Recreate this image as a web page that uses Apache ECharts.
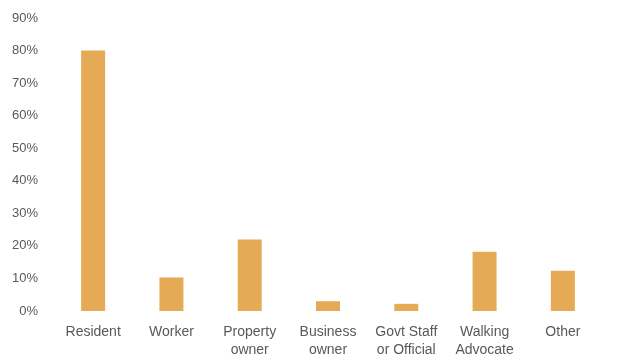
<!DOCTYPE html>
<html>
<head>
<meta charset="utf-8">
<script src="https://cdn.jsdelivr.net/npm/echarts@6/dist/echarts.min.js"></script>
<style>
  html, body { margin: 0; padding: 0; background: #ffffff; }
  #chart { width: 640px; height: 360px; }
</style>
</head>
<body>
<div id="chart"></div>
<script>
// Respondent roles and the share of respondents in each (percent)
const categories = ['Resident', 'Worker', 'Property\nowner', 'Business\nowner', 'Govt Staff\nor Official', 'Walking\nAdvocate', 'Other'];
const shares = [80, 10.3, 22, 3, 2.2, 18.2, 12.4];
const yTicks = [0, 10, 20, 30, 40, 50, 60, 70, 80, 90];

const chart = echarts.init(document.getElementById('chart'), null, { renderer: 'canvas' });
chart.setOption({
  animation: false,
  backgroundColor: '#ffffff',
  grid: { left: 54, right: 38, top: 18, bottom: 49, containLabel: false },
  xAxis: {
    type: 'category',
    data: categories,
    axisLine: { show: false },
    axisTick: { show: false },
    axisLabel: {
      color: '#595959',
      fontFamily: 'Liberation Sans, Arial, sans-serif',
      fontSize: 14,
      lineHeight: 18,
      margin: 12,
      interval: 0
    }
  },
  yAxis: {
    type: 'value',
    min: yTicks[0],
    max: yTicks[yTicks.length - 1],
    interval: 10,
    splitLine: { show: false },
    axisLine: { show: false },
    axisTick: { show: false },
    axisLabel: {
      color: '#595959',
      fontFamily: 'Liberation Sans, Arial, sans-serif',
      fontSize: 13,
      margin: 16,
      formatter: v => v + '%'
    }
  },
  series: [{
    type: 'bar',
    data: shares,
    barWidth: 24,
    itemStyle: { color: '#E5AA55' }
  }]
});
</script>
</body>
</html>
